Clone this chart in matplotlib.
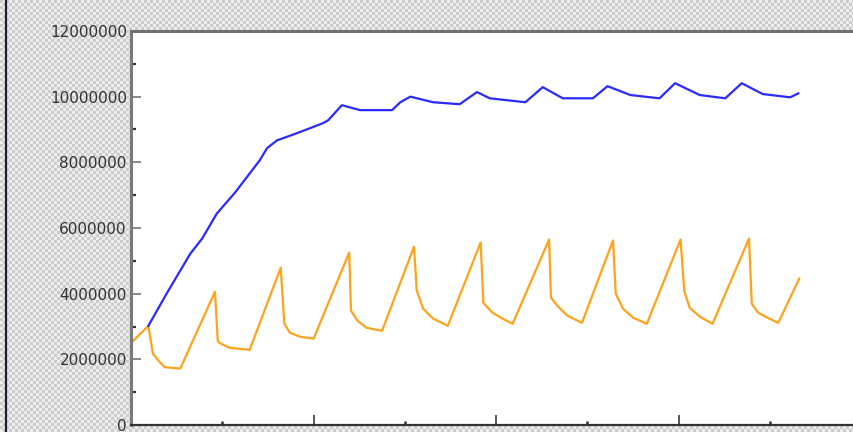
import matplotlib
matplotlib.use("Agg")
import matplotlib.pyplot as plt
from matplotlib.lines import Line2D
from matplotlib.ticker import MultipleLocator, FuncFormatter
import numpy as np

# orange series (sawtooth)
orange_x = [0.0, 1.9, 2.4, 3.2, 3.7, 5.4,
            9.2, 9.5, 9.7, 10.8, 13.0,
            16.4, 16.8, 17.4, 18.5, 20.0,
            23.9, 24.1, 24.8, 25.8, 27.5,
            31.0, 31.3, 32.0, 33.1, 34.7,
            38.3, 38.6, 39.6, 40.7, 41.8,
            45.8, 46.0, 46.7, 47.8, 49.4,
            52.8, 53.1, 53.9, 55.0, 56.5,
            60.2, 60.6, 61.2, 62.3, 63.7,
            67.7, 68.0, 68.7, 69.7, 70.9,
            73.2]
orange_y = [2.50, 3.02, 2.17, 1.90, 1.76, 1.72,
            4.06, 2.56, 2.50, 2.35, 2.29,
            4.79, 3.08, 2.81, 2.69, 2.63,
            5.25, 3.48, 3.18, 2.96, 2.87,
            5.43, 4.10, 3.54, 3.24, 3.02,
            5.56, 3.72, 3.42, 3.24, 3.08,
            5.65, 3.88, 3.63, 3.33, 3.11,
            5.62, 4.00, 3.54, 3.27, 3.08,
            5.65, 4.09, 3.57, 3.30, 3.08,
            5.68, 3.69, 3.42, 3.27, 3.11,
            4.46]

# blue series (rising then plateau)
blue_x = [1.9, 3.9, 6.5, 7.8, 9.4, 11.4, 14.1, 14.9, 16.0, 18.2,
          21.0, 21.6, 23.1, 25.1, 28.6, 29.5, 30.6, 33.1, 36.0, 37.9,
          39.3, 43.2, 45.1, 47.3, 50.6, 52.2, 54.7, 57.9, 59.6, 62.3,
          65.1, 66.9, 69.2, 72.2, 73.1]
blue_y = [3.02, 4.00, 5.22, 5.68, 6.44, 7.08, 8.06, 8.43, 8.67, 8.89,
          9.19, 9.28, 9.74, 9.59, 9.59, 9.83, 10.00, 9.83, 9.77, 10.14,
          9.95, 9.83, 10.29, 9.95, 9.95, 10.32, 10.05, 9.95, 10.41, 10.05,
          9.95, 10.41, 10.08, 9.98, 10.10]

W, H = 854, 432
fig = plt.figure(figsize=(W / 100, H / 100), dpi=100)

# checkered background
yy, xx = np.mgrid[0:H, 0:W]
checker = ((xx // 3 + yy // 3) % 2).astype(float)
bg = np.where(checker[..., None] > 0, np.array([0.93, 0.93, 0.93]), np.array([0.80, 0.80, 0.80]))
fig.figimage(bg, xo=0, yo=0, zorder=-10)
fig.add_artist(Line2D([6.5 / W, 6.5 / W], [0, 1], color="#1c1c40", lw=1.6, zorder=-5))

ax = fig.add_axes([131 / W, 7 / H, 1 - 131 / W, 394 / H])
ax.set_zorder(1)
ax.set_facecolor("white")

ax.plot(orange_x, np.array(orange_y) * 1e6, color="#ffa31a", lw=1.6)
ax.plot(blue_x, np.array(blue_y) * 1e6, color="#2a2aff", lw=1.6)

ax.set_xlim(0, 79.2)
ax.set_ylim(0, 12000000)

ax.yaxis.set_major_locator(MultipleLocator(2000000))
ax.yaxis.set_minor_locator(MultipleLocator(1000000))
ax.xaxis.set_major_locator(MultipleLocator(20))
ax.xaxis.set_minor_locator(MultipleLocator(10))
ax.yaxis.set_major_formatter(FuncFormatter(lambda v, p: f"{int(v)}"))

ax.tick_params(axis="y", which="major", direction="in", length=7, width=1.4,
               color="#888888", labelsize=11, labelcolor="#333333", pad=3)
ax.tick_params(axis="y", which="minor", direction="in", length=3.5, width=1.6, color="#333333")
ax.tick_params(axis="x", which="major", direction="in", length=7, width=1.4, color="#555555")
ax.tick_params(axis="x", which="minor", direction="in", length=3, width=1.8, color="#333333")
ax.tick_params(axis="x", which="both", labelbottom=False)

ax.spines["left"].set_color("#7a7a7a")
ax.spines["left"].set_linewidth(2.2)
ax.spines["top"].set_color("#707070")
ax.spines["top"].set_linewidth(2.2)
ax.spines["bottom"].set_color("#333333")
ax.spines["bottom"].set_linewidth(1.6)
ax.spines["right"].set_visible(False)

fig.savefig("out.png", dpi=100, facecolor="#dcdcdc")
